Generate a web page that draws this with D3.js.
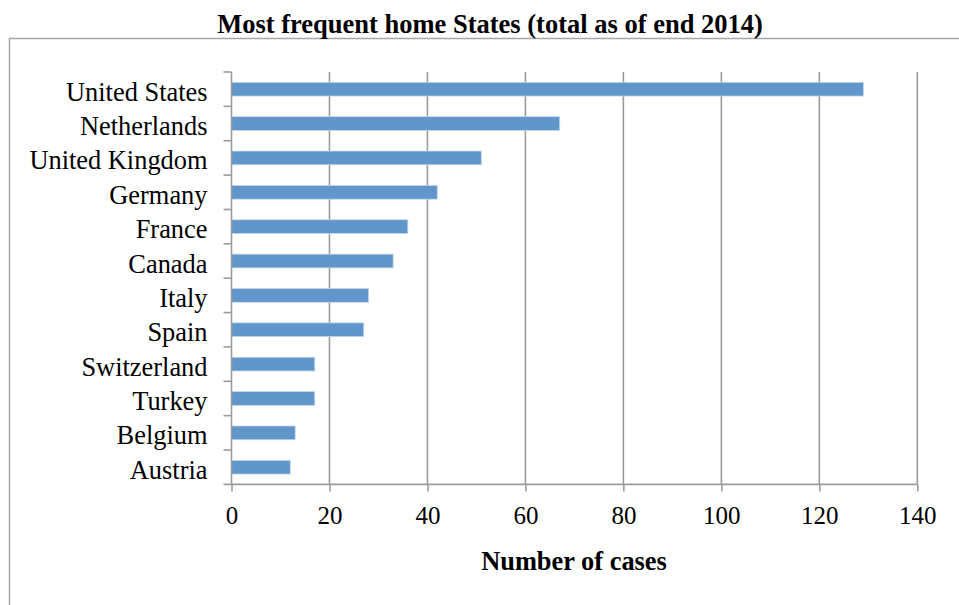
<!DOCTYPE html>
<html>
<head>
<meta charset="utf-8">
<script src="https://cdn.jsdelivr.net/npm/d3@7/dist/d3.min.js"></script>
<style>
  html, body { margin: 0; padding: 0; background: #ffffff; }
  svg { display: block; }
  text { font-family: "Liberation Serif", "Times New Roman", serif; fill: #000; }
</style>
</head>
<body>
<svg id="chart" width="959" height="605"></svg>
<script>
const categories = ["United States", "Netherlands", "United Kingdom", "Germany", "France", "Canada",
                    "Italy", "Spain", "Switzerland", "Turkey", "Belgium", "Austria"];
const cases = [129, 67, 51, 42, 36, 33, 28, 27, 17, 17, 13, 12];
const xTicks = [0, 20, 40, 60, 80, 100, 120, 140];
const titleText = "Most frequent home States (total as of end 2014)";
const xAxisTitle = "Number of cases";

const svg = d3.select("#chart");
const W = 959, H = 605;
const plotLeft = 231.5, plotRight = 917.3, plotTop = 72, plotBottom = 484.4;
const gridColor = "#9c9c9c";
const barColor = "#6096c9";

// outer frame (partial border)
svg.append("path")
  .attr("d", `M9.5,${H} L9.5,38.5 L${W},38.5`)
  .attr("fill", "none").attr("stroke", "#a6a6a6").attr("stroke-width", 1.5);

const x = d3.scaleLinear().domain([0, 140]).range([plotLeft, plotRight]);
const y = d3.scaleBand().domain(categories).range([plotTop, plotBottom]).paddingInner(0.6).paddingOuter(0.3);

// vertical gridlines
svg.append("g").selectAll("line").data(xTicks.filter(d => d > 0)).join("line")
  .attr("x1", d => x(d)).attr("x2", d => x(d))
  .attr("y1", plotTop).attr("y2", plotBottom)
  .attr("stroke", gridColor).attr("stroke-width", 1.6);

// bars
svg.append("g").selectAll("rect").data(categories).join("rect")
  .attr("x", x(0))
  .attr("y", d => y(d))
  .attr("width", (d, i) => x(cases[i]) - x(0))
  .attr("height", y.bandwidth())
  .attr("fill", barColor)
  .attr("stroke", "#c5d8ec").attr("stroke-width", 0.8);

// x axis
const xAxis = d3.axisBottom(x).tickValues(xTicks).tickSize(7).tickPadding(15).tickFormat(d3.format("d"));
const gx = svg.append("g").attr("transform", `translate(0,${plotBottom})`).call(xAxis);
gx.select(".domain").remove();
gx.selectAll(".tick line").attr("stroke", gridColor).attr("stroke-width", 1.6);
gx.selectAll(".tick text").attr("font-size", 25).attr("fill", "#000");
svg.append("line")
  .attr("x1", plotLeft - 8).attr("x2", plotRight)
  .attr("y1", plotBottom).attr("y2", plotBottom)
  .attr("stroke", gridColor).attr("stroke-width", 1.6);

// y axis line and category boundary ticks
svg.append("line")
  .attr("x1", plotLeft).attr("x2", plotLeft)
  .attr("y1", plotTop).attr("y2", plotBottom)
  .attr("stroke", gridColor).attr("stroke-width", 1.6);
const step = y.step();
const boundaries = categories.map(c => y(c) - (step - y.bandwidth()) / 2);
svg.append("g").selectAll("line").data(boundaries).join("line")
  .attr("x1", plotLeft - 8).attr("x2", plotLeft)
  .attr("y1", d => d).attr("y2", d => d)
  .attr("stroke", gridColor).attr("stroke-width", 1.6);

// category labels
svg.append("g").selectAll("text").data(categories).join("text")
  .attr("x", 207.5)
  .attr("y", d => y(d) + y.bandwidth() / 2 + 11.5)
  .attr("text-anchor", "end")
  .attr("font-size", 26.4)
  .text(d => d);

// title
svg.append("text")
  .attr("x", 490).attr("y", 32.5)
  .attr("text-anchor", "middle")
  .attr("font-size", 26.5).attr("font-weight", "bold")
  .text(titleText);

// x axis title
svg.append("text")
  .attr("x", 574).attr("y", 570)
  .attr("text-anchor", "middle")
  .attr("font-size", 26.4).attr("font-weight", "bold")
  .text(xAxisTitle);
</script>
</body>
</html>
